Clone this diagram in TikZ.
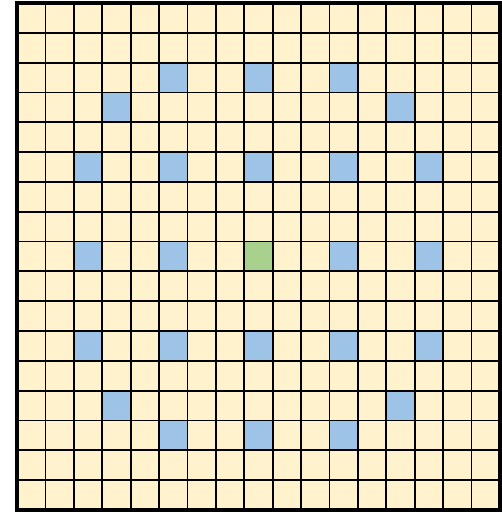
\documentclass[tikz,border=0pt]{standalone}
\usepackage{tikz}

\definecolor{paper}{HTML}{FFF2CC}
\definecolor{spotblue}{HTML}{9DC3E6}
\definecolor{spotgreen}{HTML}{A9D18E}

\begin{document}
\begin{tikzpicture}[
    x=28.41pt, y=-29.82pt,
    paperfill/.style={fill=paper},
    spot/.style={fill=spotblue},
    centre/.style={fill=spotgreen},
    cellline/.style={line width=1.8pt},
    frame/.style={line width=3.2pt}
]
\useasboundingbox (-17pt,3pt) rectangle (485pt,-509pt);
% background of the board
\fill[paperfill] (0,0) rectangle (17,17);
% marked cells
\foreach \c/\r in {5/2,8/2,11/2,3/3,13/3,2/5,5/5,8/5,11/5,14/5,2/8,5/8,11/8,14/8,2/11,5/11,8/11,11/11,14/11,3/13,13/13,5/14,8/14,11/14}
    \fill[spot] (\c,\r) rectangle ++(1,1);
\fill[centre] (8,8) rectangle ++(1,1);
% grid lines
\foreach \i in {1,...,16} {
    \draw[cellline] (\i,0) -- (\i,17);
    \draw[cellline] (0,\i) -- (17,\i);
}
\draw[frame] (0,0) rectangle (17,17);
\end{tikzpicture}
\end{document}
